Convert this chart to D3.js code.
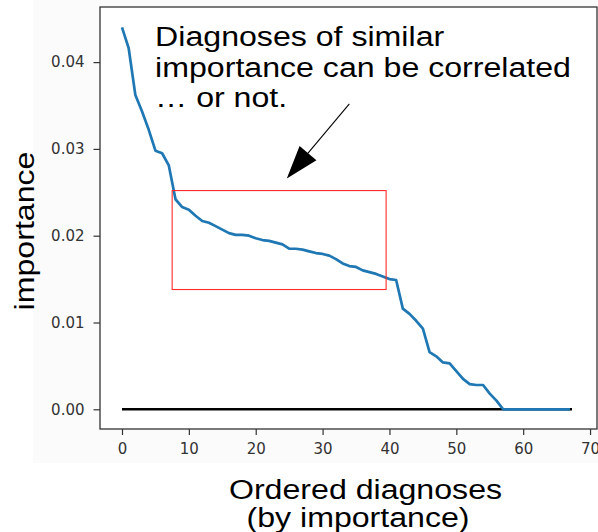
<!DOCTYPE html>
<html>
<head>
<meta charset="utf-8">
<script src="https://cdn.jsdelivr.net/npm/d3@7"></script>
<style>
  html, body { margin: 0; padding: 0; background: #ffffff; }
  svg { display: block; }
</style>
</head>
<body>
<svg id="chart" width="598" height="532"></svg>
<script>
// Feature importance of diagnoses, sorted from most to least important
const rank = d3.range(0, 68);
const importance = [
  0.0440, 0.0416, 0.0362, 0.0343, 0.0322, 0.0298, 0.0295, 0.0281, 0.0242, 0.0233,
  0.0230, 0.0223, 0.0217, 0.0215, 0.0211, 0.0207, 0.0203, 0.0201, 0.0201, 0.0200,
  0.0197, 0.0195, 0.0194, 0.0192, 0.0190, 0.0185, 0.0185, 0.0184, 0.0182, 0.0180,
  0.0179, 0.0177, 0.0173, 0.0168, 0.0165, 0.0164, 0.0160, 0.0158, 0.0156, 0.0153,
  0.0150, 0.0149, 0.0116, 0.0110, 0.0102, 0.0093, 0.0066, 0.0061, 0.0054, 0.0053,
  0.0044, 0.0035, 0.0029, 0.0028, 0.0028, 0.0018, 0.0010, 0.0000, 0.0000, 0.0000,
  0.0000, 0.0000, 0.0000, 0.0000, 0.0000, 0.0000, 0.0000, 0.0000
];
const xTicks = [0, 10, 20, 30, 40, 50, 60, 70];
const yTicks = [0.00, 0.01, 0.02, 0.03, 0.04];
const zeroLine = [0, 67.3];                 // baseline at importance 0
const highlightX = [7.5, 39.5];             // boxed band of similar importance
const highlightY = [0.0138, 0.0252];
const noteLines = ["Diagnoses of similar", "importance can be correlated", "\u2026 or not."];
const notePos = [4.95, 0.0418];             // text anchor (data units)
const arrowFrom = [34.0, 0.0352];
const arrowTo = [24.65, 0.0266];
const xLabelLines = ["Ordered diagnoses", "(by importance)"];
const yLabel = "importance";

const svg = d3.select("#chart");
const W = 598, H = 532;
const plot = { left: 100, right: 597, top: 7, bottom: 429 };

// figure background
svg.append("rect").attr("x", 33).attr("y", 0).attr("width", W - 33).attr("height", 463)
  .attr("fill", "#fbfbfb");
svg.append("rect").attr("x", plot.left).attr("y", plot.top)
  .attr("width", plot.right - plot.left).attr("height", plot.bottom - plot.top)
  .attr("fill", "#ffffff");

const x = d3.scaleLinear().domain([-3.29, 71.04]).range([plot.left, plot.right]);
const y = d3.scaleLinear().domain([-0.00227, 0.04635]).range([plot.bottom, plot.top]);

const g = svg.append("g");

// zero baseline
g.append("line")
  .attr("x1", x(zeroLine[0])).attr("x2", x(zeroLine[1]))
  .attr("y1", y(0)).attr("y2", y(0))
  .attr("stroke", "#000").attr("stroke-width", 2.6);

// importance curve
const line = d3.line().x((d, i) => x(rank[i])).y(d => y(d));
g.append("path")
  .datum(importance)
  .attr("d", line)
  .attr("fill", "none")
  .attr("stroke", "#1f77b4")
  .attr("stroke-width", 2.7)
  .attr("stroke-linejoin", "round");

// highlight box
g.append("rect")
  .attr("x", x(highlightX[0])).attr("y", y(highlightY[1]))
  .attr("width", x(highlightX[1]) - x(highlightX[0]))
  .attr("height", y(highlightY[0]) - y(highlightY[1]))
  .attr("fill", "none").attr("stroke", "#ff2a2a").attr("stroke-width", 1.1);

// axes
const xAxis = d3.axisBottom(x).tickValues(xTicks).tickFormat(d3.format("d"))
  .tickSize(6).tickPadding(8);
const yAxis = d3.axisLeft(y).tickValues(yTicks).tickFormat(d3.format(".2f"))
  .tickSize(6.5).tickPadding(9);

const gx = svg.append("g").attr("transform", `translate(0,${plot.bottom})`).call(xAxis);
const gy = svg.append("g").attr("transform", `translate(${plot.left},0)`).call(yAxis);
[gx, gy].forEach(a => {
  a.select(".domain").remove();
  a.selectAll(".tick line").attr("stroke", "#333").attr("stroke-width", 1.2);
  a.selectAll(".tick text")
    .attr("fill", "#333")
    .style("font-family", "DejaVu Sans, sans-serif")
    .style("font-size", "15px");
});

// frame
svg.append("rect").attr("x", plot.left).attr("y", plot.top)
  .attr("width", plot.right - plot.left).attr("height", plot.bottom - plot.top)
  .attr("fill", "none").attr("stroke", "#333").attr("stroke-width", 1.3);

// large labels use a horizontally widened sans face
const labelFont = "Liberation Sans, Arial, sans-serif";
const widen = 1.19;
function bigText(transform, anchor) {
  return svg.append("text")
    .attr("transform", transform + ` scale(${widen},1)`)
    .attr("text-anchor", anchor)
    .style("font-family", labelFont).style("font-size", "27px").attr("fill", "#000");
}

// annotation text
const note = bigText(`translate(${x(notePos[0])},${y(notePos[1])})`, "start");
noteLines.forEach((t, i) => {
  note.append("tspan").attr("x", 0).attr("dy", i === 0 ? 0 : 30.2).text(t);
});

// annotation arrow
const ax0 = x(arrowFrom[0]), ay0 = y(arrowFrom[1]);
const ax1 = x(arrowTo[0]), ay1 = y(arrowTo[1]);
const ang = Math.atan2(ay1 - ay0, ax1 - ax0);
const headLen = 33, headHalf = 11;
const bx = ax1 - headLen * Math.cos(ang), by = ay1 - headLen * Math.sin(ang);
svg.append("line")
  .attr("x1", ax0).attr("y1", ay0).attr("x2", bx).attr("y2", by)
  .attr("stroke", "#000").attr("stroke-width", 1.1);
svg.append("path")
  .attr("d", d3.line()([
    [ax1, ay1],
    [bx + headHalf * Math.sin(ang), by - headHalf * Math.cos(ang)],
    [bx - headHalf * Math.sin(ang), by + headHalf * Math.cos(ang)]
  ]) + "Z")
  .attr("fill", "#000");

// axis labels
bigText("translate(34,231) rotate(-90)", "middle").text(yLabel);
bigText("translate(365.5,499)", "middle").text(xLabelLines[0]);
bigText("translate(358,527)", "middle").text(xLabelLines[1]);
</script>
</body>
</html>
